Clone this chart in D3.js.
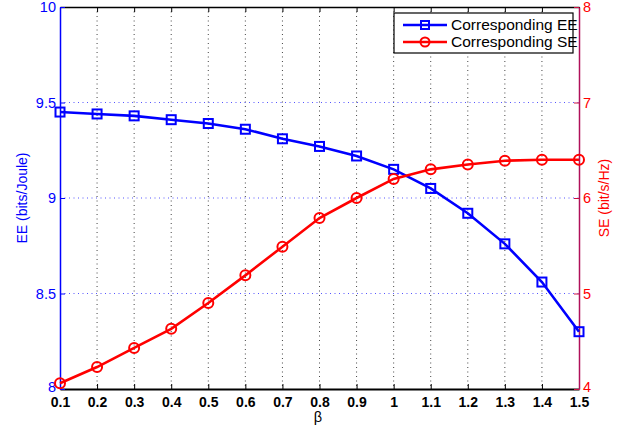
<!DOCTYPE html>
<html>
<head>
<meta charset="utf-8">
<script src="https://cdn.jsdelivr.net/npm/d3@7"></script>
<style>
  html, body { margin: 0; padding: 0; background: #fff; }
  svg { display: block; font-family: Arial, "Liberation Sans", sans-serif; }
</style>
</head>
<body>
<svg id="chart" width="630" height="434"></svg>
<script>
// β values shared by both curves
const beta = [0.1, 0.2, 0.3, 0.4, 0.5, 0.6, 0.7, 0.8, 0.9, 1.0, 1.1, 1.2, 1.3, 1.4, 1.5];
// Energy efficiency (bits/Joule)
const eeValues = [9.45, 9.44, 9.43, 9.41, 9.39, 9.36, 9.31, 9.27, 9.22, 9.15, 9.05, 8.92, 8.76, 8.56, 8.30];
// Spectral efficiency (bit/s/Hz)
const seValues = [4.06, 4.23, 4.43, 4.63, 4.90, 5.19, 5.49, 5.79, 6.00, 6.20, 6.30, 6.35, 6.39, 6.40, 6.40];
// Tick labels
const xTicks = [0.1, 0.2, 0.3, 0.4, 0.5, 0.6, 0.7, 0.8, 0.9, 1, 1.1, 1.2, 1.3, 1.4, 1.5];
const eeTicks = [8, 8.5, 9, 9.5, 10];
const seTicks = [4, 5, 6, 7, 8];

const svg = d3.select("#chart");
const plotLeft = 60, plotRight = 579, plotTop = 7, plotBottom = 389;
const BLUE = "#0000ff", RED = "#ff0000", RIGHT_EDGE = "#b0105a";
const fmt = d3.format("");

const x = d3.scaleLinear().domain([0.1, 1.5]).range([plotLeft, plotRight]);
const yEE = d3.scaleLinear().domain([8, 10]).range([plotBottom, plotTop]);
const ySE = d3.scaleLinear().domain([4, 8]).range([plotBottom, plotTop]);

// grid: dotted vertical lines at x ticks, dotted blue lines at EE ticks
const grid = svg.append("g");
grid.selectAll("line.vx").data(xTicks.slice(1, -1)).join("line")
  .attr("x1", d => x(d)).attr("x2", d => x(d))
  .attr("y1", plotTop).attr("y2", plotBottom)
  .attr("stroke", "#444").attr("stroke-width", 1).attr("stroke-dasharray", "1,3.5");
grid.selectAll("line.hy").data(eeTicks.slice(1, -1)).join("line")
  .attr("x1", plotLeft).attr("x2", plotRight)
  .attr("y1", d => yEE(d)).attr("y2", d => yEE(d))
  .attr("stroke", "#5555ff").attr("stroke-width", 1).attr("stroke-dasharray", "1,3.5");

// bottom axis
const gx = svg.append("g").attr("transform", `translate(0,${plotBottom})`)
  .call(d3.axisBottom(x).tickValues(xTicks).tickSizeInner(-5).tickSizeOuter(0).tickPadding(8).tickFormat(fmt));
gx.select(".domain").attr("stroke", "#000").attr("stroke-width", 2);
gx.selectAll(".tick line").attr("stroke", "#000");
gx.selectAll("text").attr("fill", "#000").attr("font-size", 14).attr("font-weight", "bold");

// top axis (box edge with tick marks)
const gt = svg.append("g").attr("transform", `translate(0,${plotTop})`)
  .call(d3.axisTop(x).tickValues(xTicks).tickSizeInner(-5).tickSizeOuter(0).tickFormat(""));
gt.select(".domain").attr("stroke", "#000").attr("stroke-width", 1.5);
gt.selectAll(".tick line").attr("stroke", "#000");

// left axis (EE)
const gl = svg.append("g").attr("transform", `translate(${plotLeft},0)`)
  .call(d3.axisLeft(yEE).tickValues(eeTicks).tickSizeInner(-5).tickSizeOuter(0).tickPadding(4).tickFormat(fmt));
gl.select(".domain").attr("stroke", BLUE).attr("stroke-width", 1.5);
gl.selectAll(".tick line").attr("stroke", BLUE);
gl.selectAll("text").attr("fill", BLUE).attr("font-size", 14.5);

// right axis (SE)
const gr = svg.append("g").attr("transform", `translate(${plotRight},0)`)
  .call(d3.axisRight(ySE).tickValues(seTicks).tickSizeInner(-5).tickSizeOuter(0).tickPadding(4).tickFormat(fmt));
gr.select(".domain").attr("stroke", RIGHT_EDGE).attr("stroke-width", 1.5);
gr.selectAll(".tick line").attr("stroke", "#cc1040");
gr.selectAll("text").attr("fill", RED).attr("font-size", 14.5);

// lift the lowest y labels slightly so they sit clear of the x labels
gl.selectAll(".tick").filter(d => d === 8).select("text").attr("y", -2.5);
gr.selectAll(".tick").filter(d => d === 4).select("text").attr("y", -2.5);

// axis titles
svg.append("text").attr("transform", `translate(27,${(plotTop + plotBottom) / 2}) rotate(-90)`)
  .attr("text-anchor", "middle").attr("fill", BLUE).attr("font-size", 14)
  .text("EE (bits/Joule)");
svg.append("text").attr("transform", `translate(609,${(plotTop + plotBottom) / 2}) rotate(-90)`)
  .attr("text-anchor", "middle").attr("fill", RED).attr("font-size", 14)
  .text("SE (bit/s/Hz)");
svg.append("text").attr("x", 318).attr("y", 422)
  .attr("text-anchor", "middle").attr("fill", "#000").attr("font-size", 14.5)
  .text("β");

const eeData = beta.map((b, i) => [b, eeValues[i]]);
const seData = beta.map((b, i) => [b, seValues[i]]);

// EE curve with square markers
svg.append("path").datum(eeData)
  .attr("d", d3.line().x(d => x(d[0])).y(d => yEE(d[1])))
  .attr("fill", "none").attr("stroke", BLUE).attr("stroke-width", 2.6);
svg.append("g").selectAll("rect").data(eeData).join("rect")
  .attr("x", d => x(d[0]) - 4.5).attr("y", d => yEE(d[1]) - 4.5)
  .attr("width", 9).attr("height", 9)
  .attr("fill", "none").attr("stroke", BLUE).attr("stroke-width", 2);

// SE curve with circle markers
svg.append("path").datum(seData)
  .attr("d", d3.line().x(d => x(d[0])).y(d => ySE(d[1])))
  .attr("fill", "none").attr("stroke", RED).attr("stroke-width", 2.6);
svg.append("g").selectAll("circle").data(seData).join("circle")
  .attr("cx", d => x(d[0])).attr("cy", d => ySE(d[1])).attr("r", 5)
  .attr("fill", "none").attr("stroke", RED).attr("stroke-width", 2);

// legend
const lg = svg.append("g");
lg.append("rect").attr("x", 394).attr("y", 13).attr("width", 179).attr("height", 40)
  .attr("fill", "#fff").attr("stroke", "#000").attr("stroke-width", 1.2);
const entries = [
  { label: "Corresponding EE", color: BLUE, shape: "square" },
  { label: "Corresponding SE", color: RED, shape: "circle" }
];
entries.forEach((e, i) => {
  const cy = 25 + i * 17;
  lg.append("line").attr("x1", 403).attr("x2", 447).attr("y1", cy).attr("y2", cy)
    .attr("stroke", e.color).attr("stroke-width", 2.6);
  if (e.shape === "square") {
    lg.append("rect").attr("x", 421).attr("y", cy - 4).attr("width", 8).attr("height", 8)
      .attr("fill", "none").attr("stroke", e.color).attr("stroke-width", 2);
  } else {
    lg.append("circle").attr("cx", 425).attr("cy", cy).attr("r", 4.5)
      .attr("fill", "none").attr("stroke", e.color).attr("stroke-width", 2);
  }
  lg.append("text").attr("x", 451).attr("y", cy + 5).attr("font-size", 15.5).attr("fill", "#000")
    .text(e.label);
});
</script>
</body>
</html>
